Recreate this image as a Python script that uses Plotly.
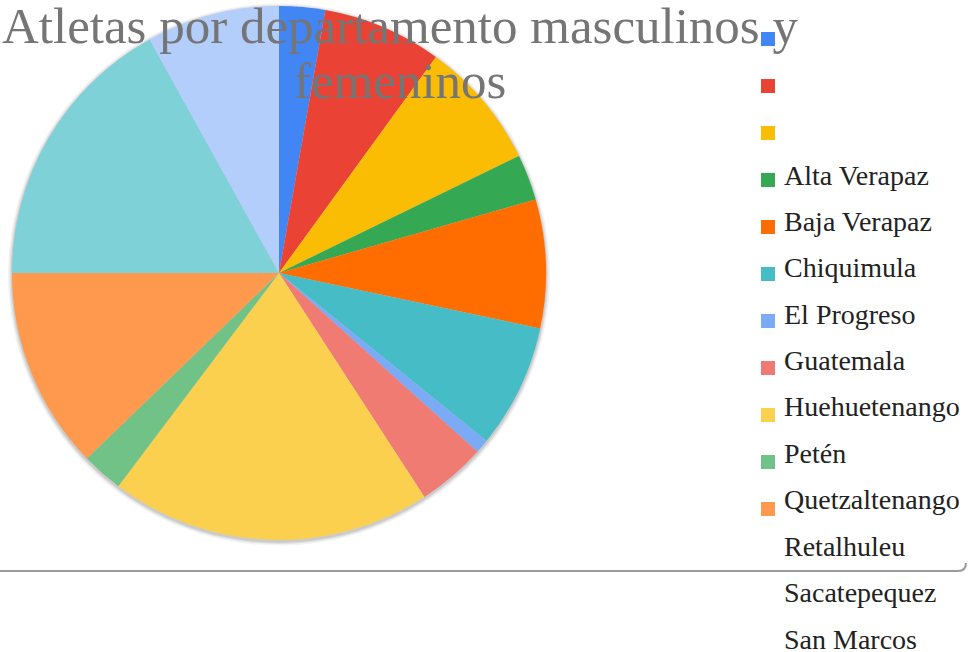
import plotly.graph_objects as go

W, H = 968, 652

categories = ["", "", "", "Alta Verapaz", "Baja Verapaz", "Chiquimula", "El Progreso",
              "Guatemala", "Huehuetenango", "Petén", "Quetzaltenango", "Retalhuleu",
              "Sacatepequez", "San Marcos"]
values = [10, 26, 28, 10, 28, 27, 3, 15, 70, 9, 44, 61, 29, 0]
colors = ["#4285F4", "#EA4335", "#FBBC04", "#34A853", "#FF6D01", "#46BDC6", "#7BAAF7",
          "#F07B72", "#FCD04F", "#71C287", "#FF994D", "#7ED1D7", "#B3CEFB", "#A8D5A0"]
legend_markers = 11  # entries whose colour square is visible

title_lines = ["Atletas por departamento masculinos y", "femeninos"]
FONT = "Liberation Serif"

def px_x(v):
    return v / W

def px_y(v):
    return 1 - v / H

cx, cy, r = 279, 273, 267

fig = go.Figure()
fig.add_trace(go.Pie(
    labels=[str(i) for i in range(len(categories))],
    values=values,
    customdata=categories,
    hovertemplate="%{customdata}: %{value}<extra></extra>",
    sort=False,
    direction="clockwise",
    rotation=0,
    textinfo="none",
    marker=dict(colors=colors, line=dict(width=0)),
    showlegend=False,
    domain=dict(x=[px_x(cx - r), px_x(cx + r)], y=[px_y(cy + r), px_y(cy - r)]),
))

shapes = []
# soft shadow under pie
for d, a in [(4, 0.05), (2.5, 0.07), (1.2, 0.09)]:
    shapes.append(dict(type="circle", xref="paper", yref="paper", layer="below",
                       x0=px_x(cx - r - d), x1=px_x(cx + r + d),
                       y0=px_y(cy + r + d + 1.5), y1=px_y(cy - r - d + 1.5),
                       fillcolor=f"rgba(0,0,0,{a})", line=dict(width=0)))
# chart border bottom
shapes.append(dict(type="path", xref="paper", yref="paper",
                   path=f"M 0,{px_y(571)} L {px_x(958)},{px_y(571)} Q {px_x(966)},{px_y(571)} {px_x(966)},{px_y(563)}",
                   line=dict(color="#9a9a9a", width=2)))

annotations = []
for k, name in enumerate(categories):
    mc = 39 + 47 * k
    if k < legend_markers:
        shapes.append(dict(type="rect", xref="paper", yref="paper",
                           x0=px_x(761), x1=px_x(775), y0=px_y(mc + 7), y1=px_y(mc - 7),
                           fillcolor=colors[k], line=dict(width=0)))
    if name:
        ty = 175 + 46.4 * (k - 3)
        annotations.append(dict(text=name, x=px_x(782), y=px_y(ty), xref="paper", yref="paper",
                                xanchor="left", yanchor="middle", showarrow=False,
                                font=dict(family=FONT, size=28, color="#222222")))

for i, line in enumerate(title_lines):
    annotations.append(dict(text=line, x=px_x(400), y=px_y(26 + 55 * i), xref="paper", yref="paper",
                            xanchor="center", yanchor="middle", showarrow=False,
                            font=dict(family=FONT, size=51, color="#757575")))

fig.update_layout(
    width=W, height=H,
    margin=dict(l=0, r=0, t=0, b=0),
    paper_bgcolor="white",
    plot_bgcolor="white",
    shapes=shapes,
    annotations=annotations,
)

fig.write_html("out.html", config={"displayModeBar": False},
               post_script="document.body.style.margin='0';")
